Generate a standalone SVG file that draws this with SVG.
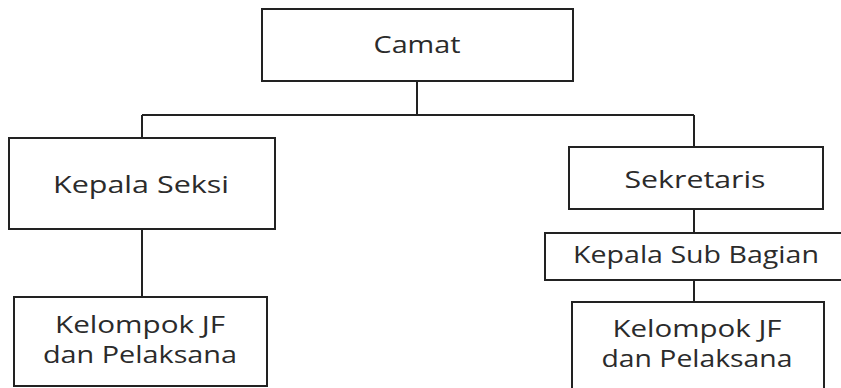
<svg xmlns="http://www.w3.org/2000/svg" width="841" height="388" viewBox="0 0 841 388">
  <style>
    .box { fill: #ffffff; stroke: #222222; stroke-width: 2; }
    .lbl { font-family: "Open Sans", "DejaVu Sans", sans-serif; font-size: 24px; font-weight: 500; fill: #2b2b2b; text-anchor: middle; }
    .wire { fill: none; stroke: #222222; stroke-width: 2; }
  </style>
  <rect width="841" height="388" fill="#ffffff"/>

  <!-- connectors -->
  <g id="connectors">
    <path class="wire" d="M417 81 V115 M142 115 H694 M142 115 V138 M694 115 V147"/>
    <path class="wire" d="M142 229 V297"/>
    <path class="wire" d="M694 209 V233 M694 280 V302"/>
  </g>

  <g id="camat">
    <rect class="box" x="262" y="9" width="311" height="72"/>
    <text class="lbl" x="417" y="53" textLength="87" lengthAdjust="spacingAndGlyphs">Camat</text>
  </g>

  <g id="kepala-seksi">
    <rect class="box" x="9" y="138" width="266" height="91"/>
    <text class="lbl" x="141" y="193" textLength="176" lengthAdjust="spacingAndGlyphs">Kepala Seksi</text>
  </g>

  <g id="kelompok-kiri">
    <rect class="box" x="14" y="297" width="253" height="89"/>
    <text class="lbl" x="140" y="333" textLength="170" lengthAdjust="spacingAndGlyphs">Kelompok JF</text>
    <text class="lbl" x="140" y="363" textLength="194" lengthAdjust="spacingAndGlyphs">dan Pelaksana</text>
  </g>

  <g id="sekretaris">
    <rect class="box" x="569" y="147" width="254" height="62"/>
    <text class="lbl" x="695" y="188" textLength="141" lengthAdjust="spacingAndGlyphs">Sekretaris</text>
  </g>

  <g id="kepala-sub-bagian">
    <rect class="box" x="545" y="233" width="300" height="47"/>
    <text class="lbl" x="696" y="263" textLength="246" lengthAdjust="spacingAndGlyphs">Kepala Sub Bagian</text>
  </g>

  <g id="kelompok-kanan">
    <rect class="box" x="572" y="302" width="252" height="90"/>
    <text class="lbl" x="697" y="337" textLength="169" lengthAdjust="spacingAndGlyphs">Kelompok JF</text>
    <text class="lbl" x="697" y="367" textLength="191" lengthAdjust="spacingAndGlyphs">dan Pelaksana</text>
  </g>
</svg>
